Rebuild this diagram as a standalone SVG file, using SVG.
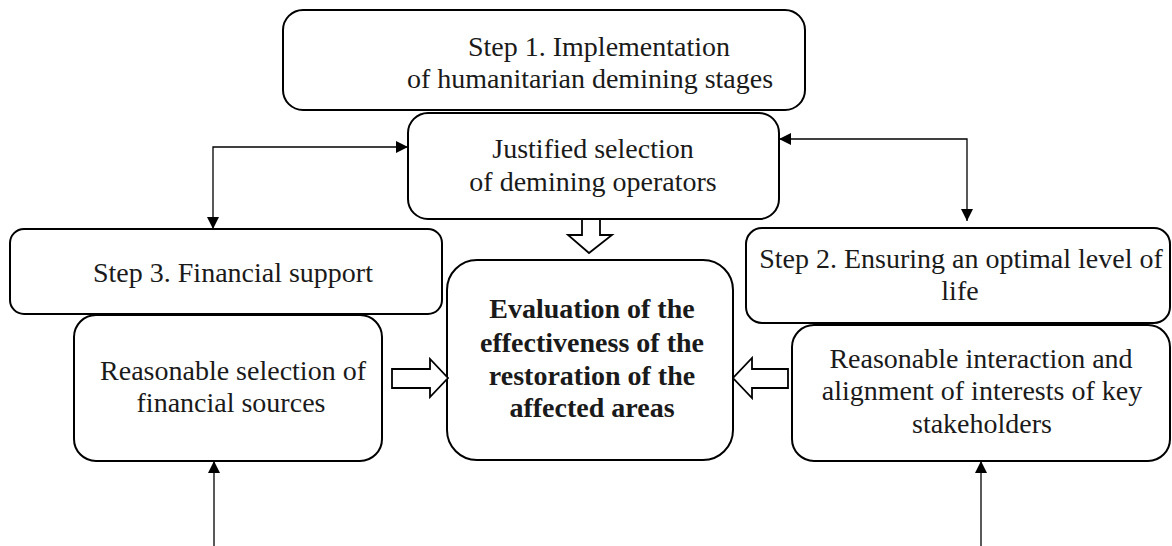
<svg xmlns="http://www.w3.org/2000/svg" width="1172" height="546" viewBox="0 0 1172 546">
<style>
.box{fill:#fff;stroke:#000;stroke-width:2}
.t{font-family:'Liberation Serif','DejaVu Serif','Noto Serif',serif;font-size:28px;fill:#1a1a1a;text-anchor:middle}
.b{font-weight:bold}
.ln{fill:none;stroke:#000;stroke-width:1.3}
.blk{fill:#fff;stroke:#000;stroke-width:1.8;stroke-linejoin:miter}
</style>
<defs>
<marker id="ah" viewBox="0 0 12 12" refX="12" refY="6" markerWidth="12" markerHeight="12" markerUnits="userSpaceOnUse" orient="auto-start-reverse">
<path d="M0,0 L12,6 L0,12 Z" fill="#000"/>
</marker>
</defs>
<g id="step1">
<rect class="box" x="283" y="10" width="522" height="100" rx="20"/>
<text class="t" x="599" y="56">Step 1. Implementation</text>
<text class="t" x="590" y="88">of humanitarian demining stages</text>
</g>
<g id="justified">
<rect class="box" x="408" y="113" width="371" height="106" rx="20"/>
<text class="t" x="593" y="158">Justified selection</text>
<text class="t" x="593" y="191">of demining operators</text>
</g>
<g id="step3">
<rect class="box" x="10" y="229" width="432" height="85" rx="14"/>
<text class="t" x="233" y="282">Step 3. Financial support</text>
</g>
<g id="finsources">
<rect class="box" x="74" y="315" width="308" height="146" rx="22"/>
<text class="t" x="233" y="380">Reasonable selection of</text>
<text class="t" x="231" y="412">financial sources</text>
</g>
<g id="evaluation">
<rect class="box" x="447" y="260" width="286" height="200" rx="30"/>
<text class="t b" x="592" y="318">Evaluation of the</text>
<text class="t b" x="592" y="352">effectiveness of the</text>
<text class="t b" x="592" y="385">restoration of the</text>
<text class="t b" x="592" y="417">affected areas</text>
</g>
<g id="step2">
<rect class="box" x="746" y="228" width="424" height="95" rx="16"/>
<text class="t" x="961" y="268">Step 2. Ensuring an optimal level of</text>
<text class="t" x="960" y="300">life</text>
</g>
<g id="stakeholders">
<rect class="box" x="792" y="325" width="378" height="136" rx="22"/>
<text class="t" x="981" y="368">Reasonable interaction and</text>
<text class="t" x="982" y="400">alignment of interests of key</text>
<text class="t" x="982" y="433">stakeholders</text>
</g>
<g id="connectors">
<path class="ln" d="M213,229 V147 H408" marker-start="url(#ah)" marker-end="url(#ah)"/>
<path class="ln" d="M779,139 H967 V221" marker-start="url(#ah)" marker-end="url(#ah)"/>
<path class="ln" d="M214,546 V461" marker-end="url(#ah)"/>
<path class="ln" d="M981,546 V461" marker-end="url(#ah)"/>
<path class="blk" d="M582,219 V235 H568 L589,253 L612,235 H600 V219 Z"/>
<path class="blk" d="M392,369 H430 V359 L448,378 L430,397 V388 H392 Z"/>
<path class="blk" d="M788,369 H752 V358 L733,378 L752,398 V388 H788 Z"/>
</g>
</svg>
